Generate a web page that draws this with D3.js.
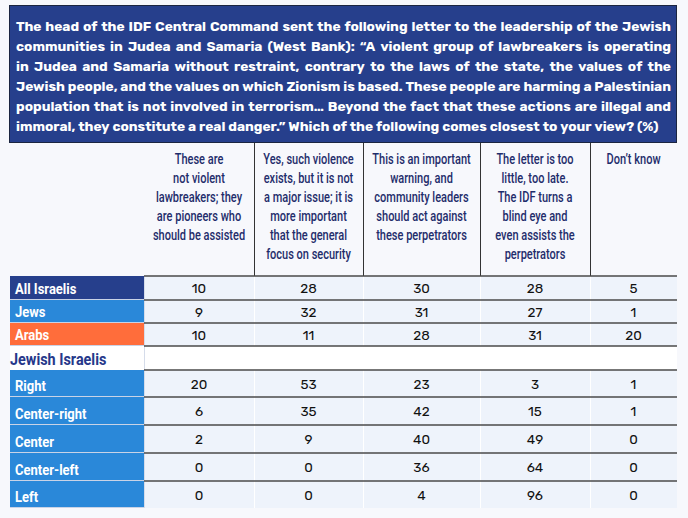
<!DOCTYPE html>
<html>
<head>
<meta charset="utf-8">
<script src="https://cdn.jsdelivr.net/npm/d3@7"></script>
<style>
  body { margin: 0; background: #f7f8fc; }
</style>
</head>
<body>
<div id="chart"></div>
<script>
// question text, one entry per printed line
var titleLines = [
  "The head of the IDF Central Command sent the following letter to the leadership of the Jewish",
  "communities in Judea and Samaria (West Bank): \u201cA violent group of lawbreakers is operating",
  "in Judea and Samaria without restraint, contrary to the laws of the state, the values of the",
  "Jewish people, and the values on which Zionism is based. These people are harming a Palestinian",
  "population that is not involved in terrorism\u2026 Beyond the fact that these actions are illegal and",
  "immoral, they constitute a real danger.\u201d Which of the following comes closest to your view? (%)"
];

// answer options (column headers), split into lines
var columns = [
  ["These are", "not violent", "lawbreakers; they", "are pioneers who", "should be assisted"],
  ["Yes, such violence", "exists, but it is not", "a major issue; it is", "more important", "that the general", "focus on security"],
  ["This is an important", "warning, and", "community leaders", "should act against", "these perpetrators"],
  ["The letter is too", "little, too late.", "The IDF turns a", "blind eye and", "even assists the", "perpetrators"],
  ["Don\u2019t know"]
];

var groups = ["All Israelis", "Jews", "Arabs"];
var groupValues = [
  [10, 28, 30, 28, 5],
  [9, 32, 31, 27, 1],
  [10, 11, 28, 31, 20]
];

var sectionLabel = "Jewish Israelis";
var segments = ["Right", "Center-right", "Center", "Center-left", "Left"];
var segmentValues = [
  [20, 53, 23, 3, 1],
  [6, 35, 42, 15, 1],
  [2, 9, 40, 49, 0],
  [0, 0, 36, 64, 0],
  [0, 0, 4, 96, 0]
];

var W = 688, H = 518;
var svg = d3.select("#chart").append("svg")
  .attr("width", W).attr("height", H)
  .style("display", "block");

svg.append("rect").attr("width", W).attr("height", H).attr("fill", "#f7f8fc");

var navy = "#263f8c", blue = "#2a88d9", orange = "#ff6d3b", ink = "#1f2d6b";

// ---- title box
svg.append("rect")
  .attr("x", 9.5).attr("y", 5.5).attr("width", 667).attr("height", 137)
  .attr("fill", navy).attr("stroke", "#1b2540").attr("stroke-width", 1);

var titleFont = "'Rubik', 'Noto Sans', 'DejaVu Sans', sans-serif";
var tLeft = 16, tRight = 671, tWidth = tRight - tLeft;
var probe = svg.append("text").attr("font-family", titleFont)
  .attr("font-weight", 700).attr("font-size", 14).attr("visibility", "hidden");
function measure(s, fs) {
  probe.attr("font-size", fs).text(s);
  return probe.node().getComputedTextLength();
}
var widest = d3.max(titleLines, function(l) { return measure(l, 14); });
var tfs = widest > tWidth ? 14 * tWidth / widest : 14;

var title = svg.append("g").attr("font-family", titleFont)
  .attr("font-weight", 700).attr("font-size", tfs).attr("fill", "#fff");

titleLines.forEach(function(line, i) {
  var y = 31 + i * 20;
  var words = line.split(" ");
  var widths = words.map(function(w) { return measure(w, tfs); });
  var gap = (tWidth - d3.sum(widths)) / (words.length - 1);
  if (i === titleLines.length - 1) gap = measure("a b", tfs) - measure("ab", tfs);
  var x = tLeft;
  words.forEach(function(w, j) {
    title.append("text").attr("x", x).attr("y", y).text(w);
    x += widths[j] + gap;
  });
});
probe.remove();

// ---- table layout
var labelLeft = 10;
var colEdges = [144, 254, 363, 480, 590, 677];
var x0 = d3.scaleOrdinal().domain(d3.range(5)).range(colEdges.slice(0, 5));
var x1 = d3.scaleOrdinal().domain(d3.range(5)).range(colEdges.slice(1));
function cx(i) { return (x0(i) + x1(i)) / 2; }

var rows = [];
groups.forEach(function(g, i) {
  rows.push({ label: g, values: groupValues[i], color: i === 0 ? navy : (i === 1 ? blue : orange) });
});
rows.push({ label: sectionLabel, section: true });
segments.forEach(function(s, i) {
  rows.push({ label: s, values: segmentValues[i], color: blue });
});
var rowEdges = [276, 300, 323, 346, 370, 397, 425, 453, 481, 508];
var yTop = d3.scaleOrdinal().domain(d3.range(rows.length)).range(rowEdges.slice(0, -1));
var yBot = d3.scaleOrdinal().domain(d3.range(rows.length)).range(rowEdges.slice(1));

var condFont = "'Roboto', 'Noto Sans', sans-serif";
var squeeze = 0.76;

// header text
var head = svg.append("g").attr("font-family", condFont)
  .attr("font-weight", 500).attr("font-size", 14.5).attr("fill", ink);
columns.forEach(function(lines, i) {
  lines.forEach(function(l, k) {
    head.append("text")
      .attr("transform", "translate(" + cx(i) + "," + (164 + k * 19) + ") scale(" + squeeze + ",1)")
      .attr("text-anchor", "middle")
      .text(l);
  });
});

// header column rules
svg.append("g").selectAll("line")
  .data(d3.range(1, 5)).enter().append("line")
  .attr("x1", function(i) { return x0(i) + 0.5; }).attr("x2", function(i) { return x0(i) + 0.5; })
  .attr("y1", 143).attr("y2", 276)
  .attr("stroke", "#333").attr("stroke-width", 1);

// body rows
var body = svg.append("g");
rows.forEach(function(r, i) {
  var t = yTop(i), b = yBot(i);
  if (r.section) {
    body.append("rect").attr("x", labelLeft).attr("y", t).attr("width", colEdges[5] - labelLeft)
      .attr("height", b - t).attr("fill", "#fff");
    body.append("text")
      .attr("transform", "translate(" + labelLeft + "," + (t + 19) + ") scale(0.9,1)")
      .attr("font-family", condFont).attr("font-weight", 700).attr("font-size", 16)
      .attr("fill", "#26388a").text(r.label);
    return;
  }
  body.append("rect").attr("x", labelLeft).attr("y", t).attr("width", colEdges[0] - labelLeft)
    .attr("height", b - t - 1).attr("fill", r.color);
  body.append("rect").attr("x", labelLeft).attr("y", b - 1).attr("width", colEdges[0] - labelLeft)
    .attr("height", 1).attr("fill", "#c9d3e6");
  body.append("rect").attr("x", colEdges[0]).attr("y", t).attr("width", colEdges[5] - colEdges[0])
    .attr("height", b - t).attr("fill", "#eef3fb");
  body.append("text")
    .attr("transform", "translate(15," + (b - 6) + ") scale(0.84,1)")
    .attr("font-family", condFont).attr("font-weight", 700).attr("font-size", 15.5)
    .attr("fill", "#fff").text(r.label);
  r.values.forEach(function(v, j) {
    body.append("text")
      .attr("x", cx(j)).attr("y", (t + b) / 2 + 5)
      .attr("text-anchor", "middle")
      .attr("font-family", "'Rubik', 'Inter', 'Noto Sans', sans-serif")
      .attr("font-size", 13.5).attr("fill", "#111")
      .text(v);
  });
});

// faint column dividers in body
rows.forEach(function(r, i) {
  if (r.section) return;
  d3.range(1, 5).forEach(function(j) {
    body.append("line")
      .attr("x1", x0(j) + 0.5).attr("x2", x0(j) + 0.5)
      .attr("y1", yTop(i)).attr("y2", yBot(i))
      .attr("stroke", "#fff").attr("stroke-width", 1);
  });
});
body.append("line")
  .attr("x1", colEdges[0] + 0.5).attr("x2", colEdges[0] + 0.5)
  .attr("y1", rowEdges[0]).attr("y2", rowEdges[rowEdges.length - 1])
  .attr("stroke", "#d5dcea").attr("stroke-width", 1);

// row rules across data columns
var rules = [rowEdges[0]];
rows.forEach(function(r, i) {
  if (r.section) { rules.push(yBot(i)); return; }
  if (i < rows.length - 1) rules.push(yBot(i));
});
body.selectAll("line.rule").data(rules).enter().append("line")
  .attr("class", "rule")
  .attr("x1", colEdges[0]).attr("x2", colEdges[5])
  .attr("y1", function(d) { return d; }).attr("y2", function(d) { return d; })
  .attr("stroke", "#4a4a4a").attr("stroke-width", 1.3);
</script>
</body>
</html>
